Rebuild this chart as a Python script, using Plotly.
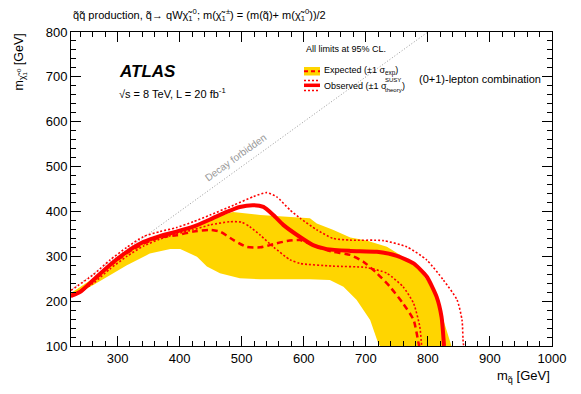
import plotly.graph_objects as go

# ---------------- data (GeV) ----------------
band_up_x = [225, 260, 290, 315, 340, 370, 400, 430, 460, 486, 530, 583, 610, 621, 647, 675, 701, 734, 760, 787, 809, 820, 830, 838]
band_up_y = [218, 250, 284, 313, 333, 348, 360, 372, 388, 399, 392, 388, 385, 373, 359, 342, 335, 321, 299, 269, 225, 180, 136, 100]
band_dn_x = [225, 261, 315, 352, 385, 401, 428, 444, 465, 497, 530, 610, 642, 664, 685, 707, 720, 723]
band_dn_y = [209, 236, 280, 306, 316, 316, 299, 277, 262, 251, 249, 249, 247, 232, 203, 158, 106, 100]

exp_x = [225, 240, 261, 288, 315, 342, 368, 395, 422, 449, 465, 487, 508, 530, 551, 573, 594, 621, 647, 675, 696, 718, 739, 760, 777, 785, 786]
exp_y = [212, 220, 246, 279, 307, 328, 342, 347, 355, 359, 355, 336, 321, 320, 327, 334, 336, 321, 310, 303, 288, 262, 232, 195, 158, 106, 100]

obs_x = [225, 240, 261, 288, 315, 342, 368, 395, 422, 449, 476, 497, 519, 535, 551, 567, 594, 615, 637, 675, 718, 750, 777, 798, 814, 822, 826]
obs_y = [212, 221, 247, 281, 310, 332, 345, 355, 366, 382, 399, 410, 414, 410, 392, 370, 343, 325, 316, 312, 310, 301, 284, 255, 210, 165, 100]

obs_up_x = [225, 260, 288, 315, 342, 368, 395, 422, 449, 487, 519, 540, 556, 578, 594, 621, 647, 675, 728, 766, 798, 825, 847, 855, 857, 858]
obs_up_y = [224, 258, 292, 320, 344, 355, 364, 377, 392, 414, 433, 442, 433, 403, 385, 359, 340, 336, 335, 321, 292, 247, 203, 158, 106, 100]

obs_dn_x = [225, 261, 288, 315, 342, 368, 395, 422, 449, 481, 500, 513, 530, 551, 578, 594, 647, 701, 734, 760, 777, 787, 790]
obs_dn_y = [209, 240, 272, 300, 323, 338, 350, 359, 370, 377, 376, 366, 347, 321, 292, 284, 278, 275, 262, 232, 195, 143, 100]

diag_x = [225, 800]
diag_y = [225, 800]

x_ticks = [300, 400, 500, 600, 700, 800, 900, 1000]
y_ticks = [100, 200, 300, 400, 500, 600, 700, 800]

RED = "#ff0000"
YEL = "#ffd500"
FONT = "Liberation Sans, Arial, Helvetica, sans-serif"

fig = go.Figure()

fig.add_trace(go.Scatter(
    x=band_up_x + band_dn_x[::-1], y=band_up_y + band_dn_y[::-1],
    fill="toself", fillcolor=YEL, line=dict(width=0), mode="lines",
    hoverinfo="skip", showlegend=False))

fig.add_trace(go.Scatter(x=diag_x, y=diag_y, mode="lines",
                         line=dict(color="#999999", width=1, dash="1px,2px"), showlegend=False))

fig.add_trace(go.Scatter(x=exp_x, y=exp_y, mode="lines",
                         line=dict(color=RED, width=2.5, dash="6px,4px", shape="spline", smoothing=0.6),
                         showlegend=False))
for xs, ys in [(obs_up_x, obs_up_y), (obs_dn_x, obs_dn_y)]:
    fig.add_trace(go.Scatter(x=xs, y=ys, mode="lines",
                             line=dict(color=RED, width=1.6, dash="2px,2px", shape="spline", smoothing=0.6),
                             showlegend=False))
fig.add_trace(go.Scatter(x=obs_x, y=obs_y, mode="lines",
                         line=dict(color=RED, width=4, shape="spline", smoothing=0.6), showlegend=False))

axis_common = dict(
    showgrid=False, zeroline=False, showline=True, linecolor="black", linewidth=1,
    mirror="allticks", ticks="inside", ticklen=10, tickwidth=1, tickcolor="black",
    tickfont=dict(family=FONT, size=13, color="black"),
    minor=dict(ticks="inside", ticklen=5, dtick=20, tick0=0, tickcolor="black", tickwidth=1),
)

fig.update_xaxes(range=[225, 1000], tickvals=x_ticks, **axis_common)
fig.update_yaxes(range=[100, 800], tickvals=y_ticks, **axis_common)

ann = []
# title
ann.append(dict(xref="paper", yref="paper", x=0, y=1.0, yshift=7, xanchor="left", yanchor="bottom",
                text="q̃q̃ production, q̃→ qWχ̃<sub>1</sub><sup>0</sup>; m(χ̃<sub>1</sub><sup>±</sup>) = (m(q̃)+ m(χ̃<sub>1</sub><sup>0</sup>))/2",
                showarrow=False, font=dict(family=FONT, size=11, color="black")))
# axis titles
ann.append(dict(xref="paper", yref="paper", x=1, y=0, yshift=-20, xanchor="right", yanchor="top",
                text="m<sub>q̃</sub> [GeV]", showarrow=False, font=dict(family=FONT, size=13, color="black")))
ann.append(dict(xref="paper", yref="paper", x=0, xshift=-52, y=1, xanchor="center", yanchor="top",
                text="m<sub>χ̃<sub>1</sub><sup>0</sup></sub> [GeV]", textangle=-90, showarrow=False,
                font=dict(family=FONT, size=12.5, color="black")))
# ATLAS
ann.append(dict(xref="paper", yref="paper", x=46/481, y=1 - 40/314, xanchor="left", yanchor="middle",
                text="<b><i>ATLAS</i></b>", showarrow=False, font=dict(family=FONT, size=17, color="black")))
ann.append(dict(xref="paper", yref="paper", x=46/481, y=1 - 61/314, xanchor="left", yanchor="middle",
                text="√s = 8 TeV, L = 20 fb<sup>-1</sup>", showarrow=False,
                font=dict(family=FONT, size=11, color="black")))
# Decay forbidden
ann.append(dict(x=490, y=521, text="Decay forbidden", textangle=-36, showarrow=False,
                font=dict(family=FONT, size=10, color="#999999")))
# legend texts
def px(xp, yp):
    return (xp - 71) / 481, 1 - (yp - 32) / 314

lx, ly = px(304, 49)
ann.append(dict(xref="paper", yref="paper", x=lx, y=ly, xanchor="left", yanchor="middle",
                text="All limits at 95% CL.", showarrow=False, font=dict(family=FONT, size=9, color="black")))
lx, ly = px(322, 71)
ann.append(dict(xref="paper", yref="paper", x=lx, y=ly, xanchor="left", yanchor="middle",
                text="Expected (±1 σ<sub>exp</sub>)", showarrow=False, font=dict(family=FONT, size=9, color="black")))
lx, ly = px(322, 85.5)
ann.append(dict(xref="paper", yref="paper", x=lx, y=ly, xanchor="left", yanchor="middle",
                text="Observed (±1 σ", showarrow=False, font=dict(family=FONT, size=9, color="black")))
lx, ly = px(383, 80)
ann.append(dict(xref="paper", yref="paper", x=lx, y=ly, xanchor="left", yanchor="middle",
                text="SUSY", showarrow=False, font=dict(family=FONT, size=6, color="black")))
lx, ly = px(383, 89.5)
ann.append(dict(xref="paper", yref="paper", x=lx, y=ly, xanchor="left", yanchor="middle",
                text="theory", showarrow=False, font=dict(family=FONT, size=6, color="black")))
lx, ly = px(400, 85.5)
ann.append(dict(xref="paper", yref="paper", x=lx, y=ly, xanchor="left", yanchor="middle",
                text=")", showarrow=False, font=dict(family=FONT, size=9, color="black")))
lx, ly = px(417, 78.5)
ann.append(dict(xref="paper", yref="paper", x=lx, y=ly, xanchor="left", yanchor="middle",
                text="(0+1)-lepton combination", showarrow=False, font=dict(family=FONT, size=11, color="black")))

# legend symbols
shapes = []
x0, y0 = px(304, 67)
x1, y1 = px(320, 75.5)
shapes.append(dict(type="rect", xref="paper", yref="paper", x0=x0, x1=x1, y0=y0, y1=y1,
                   fillcolor=YEL, line=dict(width=0)))
xa, yc = px(304, 71.3)
xb, _ = px(320, 71.3)
shapes.append(dict(type="line", xref="paper", yref="paper", x0=xa, x1=xb, y0=yc, y1=yc,
                   line=dict(color=RED, width=2, dash="4px,3px")))
for yy, w, d in [(80.5, 1.4, "2px,2px"), (85.3, 3.5, "solid"), (90.5, 1.4, "2px,2px")]:
    _, yc = px(304, yy)
    shapes.append(dict(type="line", xref="paper", yref="paper", x0=xa, x1=xb, y0=yc, y1=yc,
                       line=dict(color=RED, width=w, dash=d)))

# page body has an 8px default margin: shrink figure so plot area lands where the reference has it
fig.update_layout(
    width=573, height=386,
    margin=dict(l=63, r=29, t=24, b=48),
    paper_bgcolor="white", plot_bgcolor="white",
    annotations=ann, shapes=shapes, showlegend=False,
    font=dict(family=FONT),
)

fig.write_html("out.html")
